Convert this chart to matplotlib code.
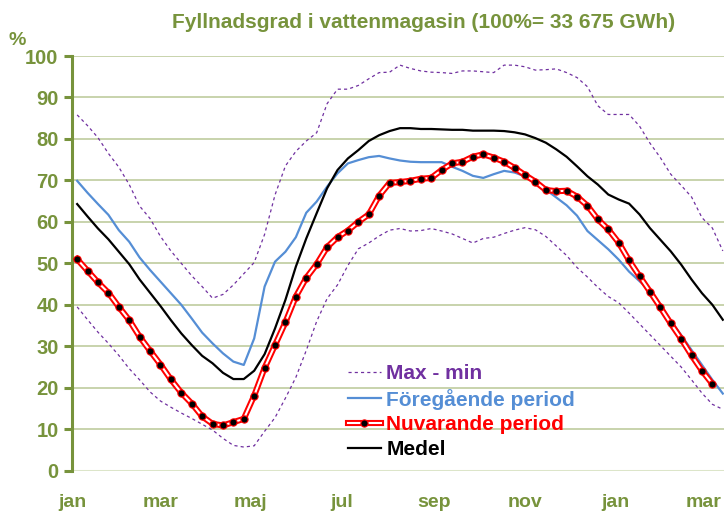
import numpy as np
import matplotlib
matplotlib.use("Agg")
import matplotlib.pyplot as plt
from matplotlib.lines import Line2D

plt.rcParams['font.family'] = ['Liberation Sans', 'DejaVu Sans']
plt.rcParams['font.weight'] = 'bold'

# Weekly reservoir filling (%), week 1 of the first year onward
max_level = [85.8, 83.2, 80.3, 76.5, 73.2, 69.0, 63.8, 60.8, 56.5, 53.0,
             50.0, 47.0, 44.4, 41.6, 42.5, 44.8, 47.5, 50.2, 57.0, 66.5,
             73.5, 77.0, 79.5, 81.5, 88.5, 92.0, 92.0, 92.9, 94.5, 96.0,
             96.1, 97.8, 97.0, 96.4, 96.1, 96.0, 95.8, 96.4, 96.4, 96.2,
             96.0, 97.8, 97.8, 97.4, 96.6, 96.7, 96.9, 96.0, 94.8, 92.6,
             88.0, 85.9, 85.9, 85.9, 83.1, 79.0, 75.5, 71.5, 68.8, 66.0,
             61.0, 58.5, 53.0]
min_level = [39.5, 36.4, 33.4, 30.7, 27.8, 24.6, 21.9, 19.0, 16.8, 15.3,
             13.9, 12.6, 11.2, 9.8, 7.8, 6.1, 5.7, 6.0, 9.5, 12.8,
             17.5, 22.5, 29.0, 36.0, 41.5, 44.8, 49.5, 53.5, 54.9, 56.6,
             58.0, 58.4, 57.8, 57.9, 58.4, 57.8, 57.1, 56.0, 54.9, 56.0,
             56.3, 57.2, 58.0, 58.6, 58.1, 56.5, 54.2, 51.9, 49.0, 46.7,
             44.2, 42.0, 40.5, 38.0, 35.4, 32.8, 30.2, 27.6, 25.0, 21.9,
             18.7, 16.0, 14.8]
previous_period = [69.9, 67.0, 64.3, 61.7, 58.0, 55.2, 51.4, 48.4, 45.6, 42.8,
                   40.0, 36.7, 33.3, 30.7, 28.3, 26.3, 25.5, 31.9, 44.4, 50.4,
                   52.8, 56.3, 62.2, 64.9, 68.5, 71.7, 74.1, 74.9, 75.6, 75.9,
                   75.3, 74.8, 74.5, 74.4, 74.4, 74.4, 73.3, 72.3, 71.1, 70.6,
                   71.5, 72.3, 71.9, 71.0, 69.6, 67.8, 65.9, 64.0, 61.5, 57.8,
                   55.6, 53.4, 50.9, 48.0, 45.7, 43.4, 39.9, 36.2, 32.7, 29.1,
                   25.5, 21.9, 18.6]
current_period = [51.0, 48.2, 45.4, 42.9, 39.5, 36.3, 32.3, 28.9, 25.6, 22.0,
                  18.8, 16.2, 13.1, 11.3, 10.9, 11.7, 12.5, 18.1, 24.8, 30.3,
                  35.8, 42.0, 46.5, 49.8, 53.9, 56.3, 57.9, 60.0, 61.8, 66.3,
                  69.4, 69.6, 69.9, 70.4, 70.6, 72.5, 74.1, 74.5, 75.7, 76.3,
                  75.5, 74.5, 73.0, 71.3, 69.7, 67.7, 67.4, 67.5, 66.1, 63.9,
                  60.6, 58.2, 55.0, 50.7, 46.9, 43.2, 39.4, 35.5, 31.8, 27.8,
                  24.1, 20.9]
mean_level = [64.3, 61.3, 58.4, 55.8, 52.8, 49.8, 46.1, 42.9, 39.7, 36.3,
              33.1, 30.3, 27.7, 25.9, 23.6, 22.1, 22.1, 24.1, 28.1, 34.3,
              41.2, 49.2, 56.0, 62.1, 68.1, 72.5, 75.3, 77.3, 79.5, 80.9,
              81.9, 82.6, 82.6, 82.4, 82.4, 82.3, 82.2, 82.2, 82.0, 82.0,
              82.0, 81.9, 81.6, 81.1, 80.2, 79.1, 77.5, 75.7, 73.4, 71.0,
              69.0, 66.6, 65.4, 64.4, 61.8, 58.5, 55.7, 52.9, 49.7, 46.1,
              42.8, 40.0, 36.4]

month_labels = ['jan', 'mar', 'maj', 'jul', 'sep', 'nov', 'jan', 'mar']
month_days = [0, 59, 120, 181, 243, 304, 365, 424]

OLIVE = '#77933C'
PURPLE = '#7030A0'
BLUE = '#558ED5'
RED = '#FF0000'


def week_days(values):
    # day offset from 1 January for the middle of each week
    return 7 * np.arange(len(values)) + 3.2


fig = plt.figure(figsize=(7.24, 5.11), dpi=100)
ax = fig.add_axes([0.1000, 0.0789, 0.9000, 0.8115])

ax.set_xlim(0, 438)
ax.set_ylim(0, 100)

for y in range(10, 101, 10):
    ax.axhline(y, color='#C4D0A6', lw=1.3, zorder=0)
ax.axhline(0, color='#DCE5C9', lw=2.2, zorder=0)

ax.plot(week_days(max_level), max_level, color=PURPLE, lw=0.9,
        dashes=(2.5, 2.5), zorder=2)
ax.plot(week_days(min_level), min_level, color=PURPLE, lw=0.9,
        dashes=(2.5, 2.5), zorder=2)
ax.plot(week_days(previous_period), previous_period, color=BLUE, lw=1.6, zorder=3)
ax.plot(week_days(mean_level), mean_level, color='black', lw=1.6, zorder=3)

xc = week_days(current_period)
ax.plot(xc, current_period, color=RED, lw=4.4, solid_joinstyle='miter', zorder=4)
ax.plot(xc, current_period, color='white', lw=1.5, zorder=5)
ax.plot(xc, current_period, ls='none', marker='o', ms=5.2, mfc='black',
        mec=RED, mew=0.8, zorder=6)

for side in ('top', 'right', 'bottom'):
    ax.spines[side].set_visible(False)
ax.spines['left'].set_color(OLIVE)
ax.spines['left'].set_linewidth(2.2)

ax.set_yticks(range(0, 101, 10))
ax.tick_params(axis='y', direction='out', length=6, width=2.2, color=OLIVE,
               labelcolor=OLIVE, labelsize=14.5, pad=4)
ax.set_xticks(month_days)
ax.set_xticklabels(month_labels)
ax.tick_params(axis='x', length=0, labelcolor=OLIVE, labelsize=14, pad=17)
for lab in ax.get_xticklabels() + ax.get_yticklabels():
    lab.set_fontweight('bold')

fig.text(0.585, 0.955, 'Fyllnadsgrad i vattenmagasin (100%= 33 675 GWh)',
         ha='center', va='center', color=OLIVE, fontsize=15, fontweight='bold')
fig.text(0.024, 0.921, '%', ha='center', va='center', color=OLIVE,
         fontsize=14, fontweight='bold')

h_range = Line2D([], [], color=PURPLE, lw=0.9, dashes=(2.5, 2.5))
h_prev = Line2D([], [], color=BLUE, lw=1.6)
h_cur = (Line2D([], [], color=RED, lw=4.4),
         Line2D([], [], color='white', lw=1.5),
         Line2D([], [], ls='none', marker='o', ms=5.2, mfc='black', mec=RED, mew=0.8))
h_mean = Line2D([], [], color='black', lw=1.6)
leg = ax.legend([h_range, h_prev, h_cur, h_mean],
                ['Max - min', 'Föregående period', 'Nuvarande period', 'Medel'],
                loc='upper left', bbox_to_anchor=(0.4224, 0.257), frameon=False,
                prop={'weight': 'bold', 'size': 15}, handlelength=1.6,
                handletextpad=0.25, labelspacing=0.27, borderaxespad=0,
                borderpad=0)
for txt, col in zip(leg.get_texts(), [PURPLE, BLUE, RED, 'black']):
    txt.set_color(col)

fig.savefig('out.png', dpi=100)
